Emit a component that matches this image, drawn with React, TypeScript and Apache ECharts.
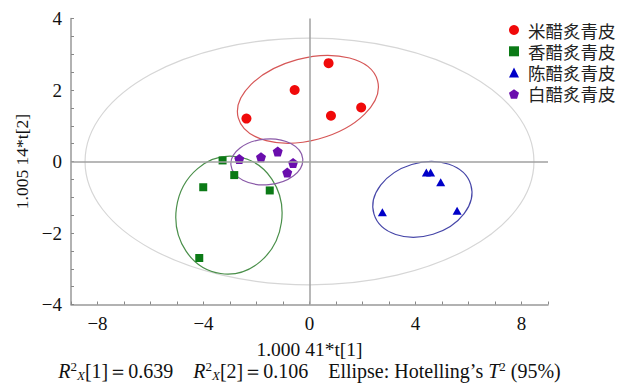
import React, { useEffect, useRef } from "react";
import * as echarts from "echarts";

// Score values: [t1, t2]
const miCu = [[-2.38, 1.2], [-0.56, 2.0], [0.72, 2.75], [0.81, 1.28], [1.95, 1.51]];
const xiangCu = [[-3.28, 0.03], [-2.84, -0.38], [-4.01, -0.72], [-1.5, -0.81], [-4.16, -2.7]];
const chenCu = [[4.41, -0.31], [4.57, -0.31], [4.95, -0.58], [2.75, -1.42], [5.57, -1.38]];
const baiCu = [[-2.65, 0.07], [-1.83, 0.12], [-1.2, 0.28], [-0.62, -0.04], [-0.84, -0.31]];

const seriesNames = ["米醋炙青皮", "香醋炙青皮", "陈醋炙青皮", "白醋炙青皮"];

// Ellipses: [centerX, centerY, radiusX, radiusY, rotationDeg]
const hotellingEllipse = [[0, 0, 8.47, 3.45, 0]];
const miEllipse = [[-0.06, 1.74, 2.72, 1.15, 15]];
const xiangEllipse = [[-3.04, -1.5, 2.0, 1.65, -8]];
const chenEllipse = [[4.26, -1.06, 1.91, 1.02, 17]];
const baiEllipse = [[-1.61, -0.01, 1.36, 0.64, 5]];

const xTickLabels = [-8, -4, 0, 4, 8];
const yTickLabels = [-4, -2, 0, 2, 4];

const pentagon = "path://M0,-10 L9.51,-3.09 L5.88,8.09 L-5.88,8.09 L-9.51,-3.09 Z";
const serif = "'Liberation Serif', 'Times New Roman', serif";
const cjk = "'Noto Sans CJK SC', sans-serif";

const fmt = (v: number) => (v < 0 ? "\u2212" + String(-v) : String(v));

function ellipseSeries(name: string, data: number[][], color: string, extra: any = {}) {
  return {
    name,
    type: "custom",
    silent: true,
    z: 1,
    encode: { x: 0, y: 1 },
    data,
    renderItem: (_params: any, api: any) => {
      const c = api.coord([api.value(0), api.value(1)]);
      const s = api.size([api.value(2), api.value(3)]);
      return {
        type: "ellipse",
        x: c[0],
        y: c[1],
        rotation: (api.value(4) * Math.PI) / 180,
        shape: { cx: 0, cy: 0, rx: s[0], ry: s[1] },
        style: { fill: "none", stroke: color, lineWidth: 1.2 },
      };
    },
    ...extra,
  };
}

export default function App() {
  const ref = useRef<HTMLDivElement>(null);
  useEffect(() => {
    if (!ref.current) return;
    const chart = echarts.init(ref.current, null, { renderer: "svg" });
    chart.setOption({
      animation: false,
      grid: { left: 71, right: 71, top: 18.5, bottom: 79.5, containLabel: false },
      title: {
        left: "center",
        top: 360,
        padding: 0,
        text:
          "{i|R}{sup|2}{isub|X}[1]\uFF1D0.639    {i|R}{sup|2}{isub|X}[2]\uFF1D0.106    Ellipse: Hotelling\u2019s {i|T}{sup|2} (95%)",
        textStyle: {
          fontFamily: serif,
          fontSize: 20,
          fontWeight: "normal",
          color: "#111",
          lineHeight: 22,
          rich: {
            i: { fontFamily: serif, fontSize: 20, fontStyle: "italic", color: "#111" },
            sup: { fontFamily: serif, fontSize: 13, color: "#111", verticalAlign: "top", lineHeight: 14 },
            isub: { fontFamily: serif, fontSize: 13, fontStyle: "italic", color: "#111", verticalAlign: "bottom", lineHeight: 14 },
          },
        },
      },
      legend: {
        orient: "vertical",
        left: 509,
        top: 20.5,
        padding: 0,
        itemWidth: 10,
        itemHeight: 10,
        itemGap: 2.3,
        data: seriesNames,
        textStyle: { fontFamily: cjk, fontSize: 17.5, color: "#222", lineHeight: 19, padding: [0, 0, 0, 4] },
      },
      xAxis: {
        type: "value",
        min: -9,
        max: 9,
        interval: 1,
        name: "1.000 41*t[1]",
        nameLocation: "middle",
        nameGap: 35,
        nameTextStyle: { fontFamily: serif, fontSize: 19.5, color: "#111" },
        axisLine: { onZero: false, lineStyle: { color: "#999", width: 1.5 } },
        axisTick: { inside: true, length: 3, lineStyle: { color: "#888" } },
        splitLine: { show: false },
        axisLabel: {
          fontFamily: serif,
          fontSize: 19,
          color: "#111",
          margin: 9,
          formatter: (v: number) => (xTickLabels.includes(v) ? fmt(v) : ""),
        },
      },
      yAxis: {
        type: "value",
        min: -4,
        max: 4,
        interval: 0.5,
        name: "1.005 14*t[2]",
        nameLocation: "middle",
        nameRotate: 90,
        nameGap: 38,
        nameTextStyle: { fontFamily: serif, fontSize: 17.5, color: "#111" },
        axisLine: { show: true, onZero: false, lineStyle: { color: "#999", width: 1.5 } },
        axisTick: { show: true, inside: true, length: 3, lineStyle: { color: "#888" } },
        splitLine: { show: false },
        axisLabel: {
          fontFamily: serif,
          fontSize: 19,
          color: "#111",
          margin: 9,
          formatter: (v: number) => (yTickLabels.includes(v) ? fmt(v) : ""),
        },
      },
      series: [
        ellipseSeries("Hotelling", hotellingEllipse, "#d6d6d6", {
          markLine: {
            silent: true,
            symbol: "none",
            label: { show: false },
            lineStyle: { color: "#a0a0a0", type: "solid", width: 1.5 },
            data: [{ xAxis: 0 }, { yAxis: 0 }],
          },
        }),
        ellipseSeries("miEllipse", miEllipse, "#d65757"),
        ellipseSeries("xiangEllipse", xiangEllipse, "#4a8f4a"),
        ellipseSeries("chenEllipse", chenEllipse, "#4646a8"),
        ellipseSeries("baiEllipse", baiEllipse, "#8a5aa8"),
        { name: seriesNames[0], type: "scatter", symbol: "circle", symbolSize: 10, data: miCu, itemStyle: { color: "#f00a0a", opacity: 1 }, z: 3 },
        { name: seriesNames[1], type: "scatter", symbol: "rect", symbolSize: 8, data: xiangCu, itemStyle: { color: "#0b7a16", opacity: 1 }, z: 3 },
        { name: seriesNames[2], type: "scatter", symbol: "triangle", symbolSize: [9, 8], data: chenCu, itemStyle: { color: "#0000c8", opacity: 1 }, z: 3 },
        { name: seriesNames[3], type: "scatter", symbol: pentagon, symbolSize: 10, data: baiCu, itemStyle: { color: "#6a0dad", opacity: 1 }, z: 3 },
      ],
    });
    return () => chart.dispose();
  }, []);
  return <div ref={ref} style={{ width: 619, height: 384, position: "absolute", left: 0, top: 0 }} />;
}
